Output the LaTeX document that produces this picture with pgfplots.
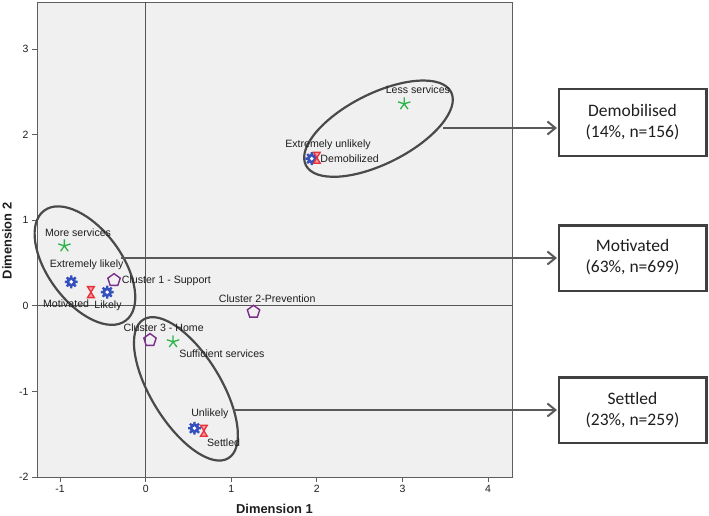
\documentclass[border=0pt]{standalone}
\usepackage{fontspec}
\setmainfont{Liberation Sans}
\newfontfamily\calibri{Carlito}
\usepackage{pgfplots}
\pgfplotsset{compat=1.18}
\usetikzlibrary{arrows.meta}
\definecolor{bgcol}{HTML}{F0F0F0}
\definecolor{framecol}{HTML}{5E5E5E}
\definecolor{refcol}{HTML}{555555}
\definecolor{ellcol}{HTML}{4A4A4A}
\definecolor{arrcol}{HTML}{595959}
\definecolor{boxcol}{HTML}{404040}
\definecolor{starg}{HTML}{2DB34A}
\definecolor{gearb}{HTML}{3350BE}
\definecolor{hgred}{HTML}{E8303A}
\definecolor{hgpink}{HTML}{F59AA0}
\definecolor{pent}{HTML}{7B2D8E}
\definecolor{txt}{HTML}{1E1E1E}
\tikzset{lbl/.style={font=\fontsize{10.6}{12}\selectfont, text=txt, inner sep=0pt}}

\pgfdeclareplotmark{gear}{%
  \pgfscope
  \pgfsetfillcolor{gearb}%
  \pgfpathmoveto{\pgfpointpolar{-16}{0.7\pgfplotmarksize}}%
  \foreach \a in {0,45,...,315}{%
    \pgfmathsetmacro{\aa}{\a-16}\pgfmathsetmacro{\ab}{\a-10}%
    \pgfmathsetmacro{\ac}{\a+10}\pgfmathsetmacro{\ad}{\a+16}%
    \pgfpathlineto{\pgfpointpolar{\aa}{0.7\pgfplotmarksize}}%
    \pgfpathlineto{\pgfpointpolar{\ab}{\pgfplotmarksize}}%
    \pgfpathlineto{\pgfpointpolar{\ac}{\pgfplotmarksize}}%
    \pgfpathlineto{\pgfpointpolar{\ad}{0.7\pgfplotmarksize}}%
  }%
  \pgfpathclose
  \pgfusepathqfill
  \endpgfscope
  \pgfscope
  \pgfsetfillcolor{white}%
  \pgfpathcircle{\pgfpointorigin}{0.3\pgfplotmarksize}%
  \pgfusepathqfill
  \endpgfscope
}
\pgfdeclareplotmark{hourglass}{%
  \pgfpathmoveto{\pgfqpoint{-0.62\pgfplotmarksize}{\pgfplotmarksize}}%
  \pgfpathlineto{\pgfqpoint{0.62\pgfplotmarksize}{\pgfplotmarksize}}%
  \pgfpathlineto{\pgfqpoint{-0.62\pgfplotmarksize}{-\pgfplotmarksize}}%
  \pgfpathlineto{\pgfqpoint{0.62\pgfplotmarksize}{-\pgfplotmarksize}}%
  \pgfpathclose
  \pgfusepathqfillstroke
}

\begin{document}
\begin{tikzpicture}
\path[use as bounding box] (0pt,0pt) rectangle (709pt,-516pt);
\begin{axis}[
  scale only axis, width=475pt, height=475pt,
  anchor=south west, at={(37pt,-477pt)},
  xmin=-1.27, xmax=4.28, ymin=-2, ymax=3.55,
  axis background/.style={fill=bgcol},
  axis line style={draw=framecol, line width=1pt},
  xtick={-1,0,1,2,3,4}, xticklabels={-1,0,1,2,3,4},
  ytick={-2,-1,0,1,2,3}, yticklabels={-2,-1,0,1,2,3},
  tick align=outside, tick pos=left,
  major tick length=5pt,
  tick style={draw=framecol, line width=0.8pt},
  tick label style={font=\fontsize{10.5}{12}\selectfont, text=txt},
  xlabel={Dimension 1}, ylabel={Dimension 2},
  label style={font=\fontsize{12.9}{14}\selectfont\bfseries, text=txt},
  xlabel style={at={(axis description cs:0.5,-0.0674)}, anchor=center},
  ylabel style={at={(axis description cs:-0.0632,0.497)}, anchor=center},
  clip=false,
]
% reference lines
\addplot[refcol, line width=1.3pt] coordinates {(0,-2) (0,3.55)};
\addplot[refcol, line width=1.3pt] coordinates {(-1.27,0) (4.28,0)};

% ellipses
\draw[ellcol, line width=2.2pt, rotate around={26.7:(axis cs:2.72,2.07)}]
  (axis cs:2.72,2.07) ellipse [x radius=0.95, y radius=0.41];
\draw[ellcol, line width=2.2pt, rotate around={-53.5:(axis cs:-0.71,0.47)}]
  (axis cs:-0.71,0.47) ellipse [x radius=0.80, y radius=0.43];
\draw[ellcol, line width=2.2pt, rotate around={-58.5:(axis cs:0.47,-0.97)}]
  (axis cs:0.47,-0.97) ellipse [x radius=0.95, y radius=0.41];

% services (green stars)
\addplot[only marks, mark=star, mark size=6.5pt, draw=starg, mark options={line width=1.3pt}]
  coordinates {(3.02,2.36) (-0.95,0.70) (0.32,-0.42)};
% likelihood (blue gears)
\addplot[only marks, mark=gear, mark size=6.5pt, fill=gearb, draw=gearb]
  coordinates {(1.94,1.72) (-0.87,0.28) (-0.45,0.16) (0.57,-1.43)};
% groups (red hourglasses)
\addplot[only marks, mark=hourglass, mark size=5.5pt, draw=hgred, fill=hgpink, mark options={line width=1.3pt}]
  coordinates {(2.00,1.73) (-0.64,0.16) (0.68,-1.46)};
% clusters (purple pentagons)
\addplot[only marks, mark=pentagon, mark size=6.5pt, draw=pent, mark options={line width=1.4pt, fill=none}]
  coordinates {(-0.37,0.30) (1.26,-0.07) (0.05,-0.40)};

% labels
\node[lbl] at (axis cs:3.18,2.52) {Less services};
\node[lbl] at (axis cs:2.13,1.88) {Extremely unlikely};
\node[lbl, anchor=west] at (axis cs:2.04,1.72) {Demobilized};
\node[lbl] at (axis cs:-0.79,0.86) {More services};
\node[lbl] at (axis cs:-0.69,0.48) {Extremely likely};
\node[lbl, anchor=west] at (axis cs:-0.28,0.29) {Cluster 1 - Support};
\node[lbl] at (axis cs:-0.93,0.02) {Motivated};
\node[lbl] at (axis cs:-0.44,0.00) {Likely};
\node[lbl] at (axis cs:1.42,0.08) {Cluster 2-Prevention};
\node[lbl] at (axis cs:0.21,-0.25) {Cluster 3 - Home};
\node[lbl] at (axis cs:0.89,-0.56) {Sufficient services};
\node[lbl] at (axis cs:0.75,-1.26) {Unlikely};
\node[lbl] at (axis cs:0.91,-1.60) {Settled};
\end{axis}

\begin{scope}[x=1pt, y=-1pt]
  % connector arrows
  \draw[arrcol, line width=2pt, -{Straight Barb[length=8pt,width=13pt,line width=2pt]}] (443,128) -- (557,128);
  \draw[arrcol, line width=2pt, -{Straight Barb[length=8pt,width=13pt,line width=2pt]}] (121,258) -- (557,258);
  \draw[arrcol, line width=2pt, -{Straight Barb[length=8pt,width=13pt,line width=2pt]}] (233,410) -- (557,410);
  % boxes
  \draw[boxcol, line width=2.5pt, fill=white] (559,89) rectangle (706.5,156);
  \draw[boxcol, line width=2.5pt, fill=white] (559,225.5) rectangle (706.5,291);
  \draw[boxcol, line width=2.5pt, fill=white] (559,377.5) rectangle (706.5,443);
  \node[align=center, font=\calibri\fontsize{17.5}{21}\selectfont, text=txt] at (632.5,122.5) {Demobilised\\(14\%, n=156)};
  \node[align=center, font=\calibri\fontsize{17.5}{21}\selectfont, text=txt] at (632.5,257.5) {Motivated\\(63\%, n=699)};
  \node[align=center, font=\calibri\fontsize{17.5}{21}\selectfont, text=txt] at (632.5,410.3) {Settled\\(23\%, n=259)};
\end{scope}
\end{tikzpicture}
\end{document}
